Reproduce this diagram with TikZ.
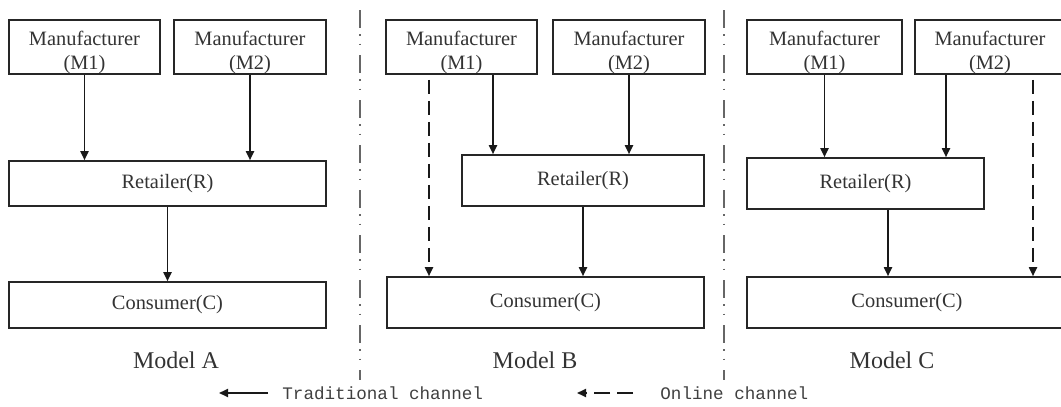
\documentclass[tikz,border=0pt]{standalone}
\usepackage{fontspec}
\setmainfont{Liberation Serif}
\setmonofont{Liberation Mono}
\usetikzlibrary{arrows.meta,positioning,calc}

% maker box text, pushed down a little inside its box
\newcommand\maker[1]{\rule{0pt}{13pt}Manufacturer\\(#1)}

\begin{document}
\begin{tikzpicture}[x=0.5pt,y=-0.5pt,
  party/.style={draw=black!85,line width=0.8pt,inner sep=0pt,align=center,
                font=\fontsize{10.2}{12}\selectfont,text=black!80},
  firm/.style={party,minimum height=23pt},
  trad/.style={-{Triangle[length=4.5pt,width=4pt]},line width=0.9pt,black!90},
  onl/.style={trad,dash pattern=on 7pt off 3.5pt},
  sep/.style={black!60,line width=0.9pt,
              dash pattern=on 9pt off 3pt on 0.8pt off 4pt on 0.8pt off 4.9pt},
  modelname/.style={font=\fontsize{12}{14}\selectfont,text=black!80},
  leg/.style={font=\ttfamily\fontsize{8.8}{10}\selectfont,text=black!75,inner sep=0pt}]

  \useasboundingbox (0,0) rectangle (1061,407);
  \clip (0,0) rectangle (1061,407);

  % model A
  \node[firm,minimum width=75.5pt] (M1A) at (84.5,47) {\maker{M1}};
  \node[firm,minimum width=76pt] (M2A) at (250,47) {\maker{M2}};
  \node[party,minimum width=158.5pt,minimum height=22.5pt] (RA) at (167.5,183.5) {Retailer(R)};
  \node[party,minimum width=158.5pt,minimum height=23pt] (CA) at (167.5,305) {Consumer(C)};
  \node[modelname] (capA) at (176,360) {Model A};

  \draw[trad] (M1A.south) -- (M1A.south |- RA.north);
  \draw[trad] (M2A.south) -- (M2A.south |- RA.north);
  \draw[trad] (RA.south) -- (CA.north);

  % model B
  \node[firm,minimum width=75.5pt] (M1B) at (461.5,47) {\maker{M1}};
  \node[firm,minimum width=76pt] (M2B) at (629,47) {\maker{M2}};
  \node[party,minimum width=121pt,minimum height=25.5pt] (RB) at (583,180.5) {Retailer(R)};
  \node[party,minimum width=158.5pt,minimum height=25.5pt] (CB) at (545.5,302.5) {Consumer(C)};
  \node[modelname] (capB) at (535,360) {Model B};

  \coordinate (b0) at ($(M1B.south)+(-32.5,5)$);
  \coordinate (b1) at ($(M1B.south)+(31.5,0)$);
  \draw[onl] (b0) -- (b0 |- CB.north);
  \draw[trad] (b1) -- (b1 |- RB.north);
  \draw[trad] (M2B.south) -- (M2B.south |- RB.north);
  \draw[trad] (RB.south) -- (RB.south |- CB.north);

  % model C
  \node[firm,minimum width=77.5pt] (M1C) at (824.5,47) {\maker{M1}};
  \node[firm,minimum width=75pt] (M2C) at (990,47) {\maker{M2}};
  \node[party,minimum width=118.5pt,minimum height=25.5pt] (RC) at (865.5,183.5) {Retailer(R)};
  \node[party,minimum width=160pt,minimum height=25.5pt] (CC) at (907,302.5) {Consumer(C)};
  \node[modelname] (capC) at (892,360) {Model C};

  \coordinate (c1) at ($(M2C.south)+(-44,0)$);
  \coordinate (c2) at ($(M2C.south)+(43,5)$);
  \coordinate (c3) at ($(RC.south)+(22.5,0)$);
  \draw[trad] (M1C.south) -- (M1C.south |- RC.north);
  \draw[trad] (c1) -- (c1 |- RC.north);
  \draw[trad] (c3) -- (c3 |- CC.north);
  \draw[onl] (c2) -- (c2 |- CC.north);

  % separators between the models
  \draw[sep] (360,10) -- (360,380);
  \draw[sep] (724,10) -- (724,380);

  % legend
  \node[leg,anchor=west] (legT) at (282,393) {Traditional channel};
  \node[leg,anchor=west] (legO) at (660,393) {Online channel};
  \draw[trad] ($(legT.west)+(-14,0)$) -- ++(-49,0);
  \draw[onl,dash pattern=on 8pt off 3.5pt] ($(legO.west)+(-27,0)$) -- ++(-56,0);
\end{tikzpicture}
\end{document}
